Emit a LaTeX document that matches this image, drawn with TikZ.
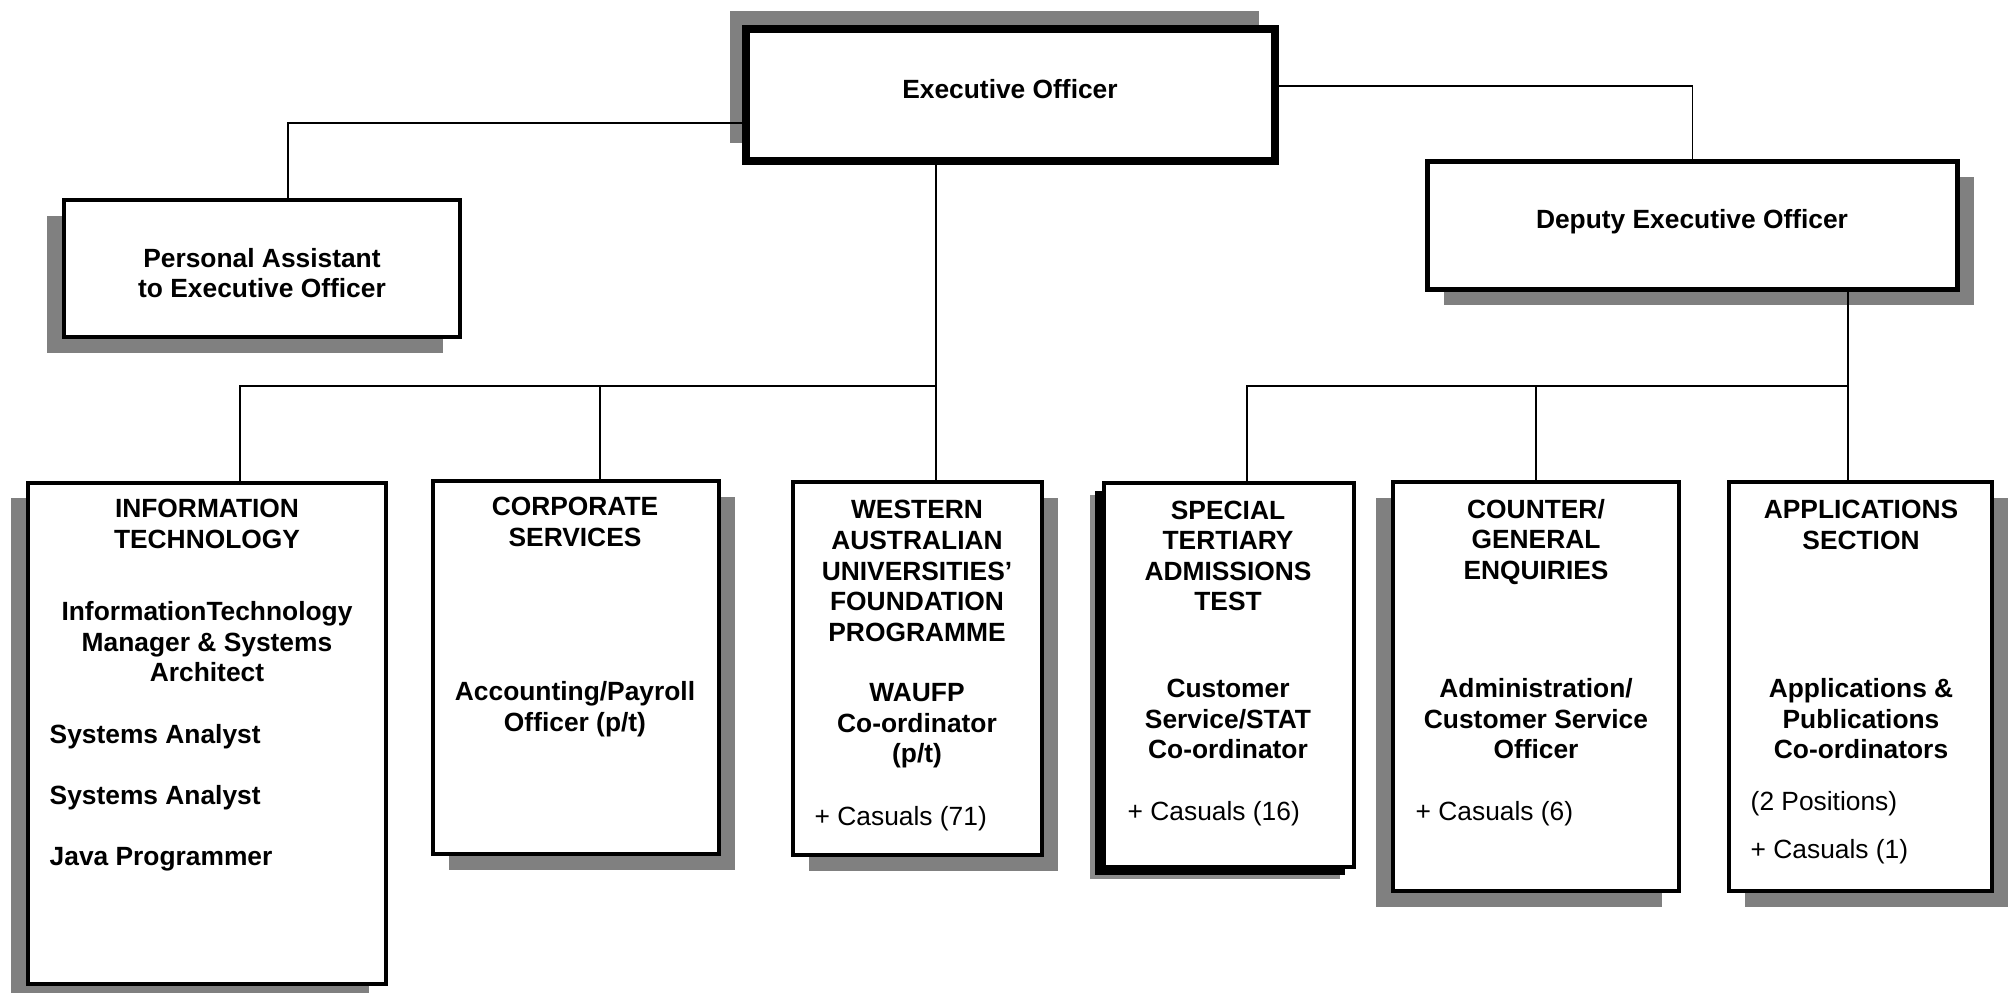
\documentclass[tikz,border=0pt]{standalone}
\usepackage{fontspec}
\setmainfont{Liberation Sans}
\usetikzlibrary{shadows}
\definecolor{shade}{HTML}{808080}
\tikzset{every node/.style={inner sep=0pt,font=\fontsize{7.5}{8.7}\selectfont},
  box/.style={draw,fill=white,line width=0.4mm},
  sh/.style 2 args={general shadow={fill=shade,shadow xshift=#1,shadow yshift=#2}},
  softshadow/.style={general shadow={fill=black,opacity=0.45,shadow xshift=-1.4mm,shadow yshift=-1.2mm},
    general shadow={fill=black,shadow xshift=-0.9mm,shadow yshift=-0.8mm}},
  head/.style={font=\fontsize{7.5}{8.7}\selectfont\bfseries,align=center},
  extra/.style={anchor=west},
  link/.style={line width=0.18mm}}

\begin{document}
\begin{tikzpicture}[x=0.1mm,y=-0.1mm]
  \useasboundingbox (0,0) rectangle (2013,993);
  % boxes
  \node[box,line width=0.8mm,sh={-1.6mm}{1.8mm},minimum width=52.9mm,minimum height=13.2mm] (exec) at (1010.5,95) {};
  \node[box,sh={-1.7mm}{-1.6mm},minimum width=39.6mm,minimum height=13.7mm] (pa) at (262,268.5) {};
  \node[box,line width=0.5mm,sh={1.6mm}{-1.6mm},minimum width=53mm,minimum height=12.8mm] (deputy) at (1692.5,225.5) {};
  \node[box,sh={-1.7mm}{-1.5mm},minimum width=35.8mm,minimum height=50.1mm] (it) at (207,733.5) {};
  \node[box,sh={1.6mm}{-1.6mm},minimum width=28.6mm,minimum height=37.3mm] (corp) at (576,667.5) {};
  \node[box,sh={1.6mm}{-1.6mm},minimum width=24.9mm,minimum height=37.3mm] (waufp) at (917.5,668.5) {};
  \node[box,softshadow,minimum width=25mm,minimum height=38.4mm] (stat) at (1229,675) {};
  \node[box,sh={-1.7mm}{-1.6mm},minimum width=28.6mm,minimum height=40.9mm] (counter) at (1536,686.5) {};
  \node[box,sh={1.6mm}{-1.6mm},minimum width=26.3mm,minimum height=40.9mm] (apps) at (1860.5,686.5) {};
  % connectors
  \coordinate (busL) at (936,386);
  \coordinate (busR) at (1848,386);
  \draw[link] ([yshift=-2.8mm]exec.west) -| ([xshift=2.6mm]pa.north);
  \draw[link] ([yshift=0.9mm]exec.east) -| (deputy.north);
  \draw[link] (exec.south -| busL) -- (busL);
  \draw[link] ([xshift=3.3mm]it.north) |- (busL) -- (busL |- waufp.north);
  \draw[link] ([xshift=2.4mm]corp.north) -- ([xshift=2.4mm]corp.north |- busL);
  \draw[link] (deputy.south -| busR) -- (busR) -- (busR |- apps.north);
  \draw[link] ([xshift=1.8mm]stat.north) |- (busR);
  \draw[link] (counter.north) -- (counter.north |- busR);
  % texts
  \node[head] (execT) at (1010,89) {Executive Officer};
  \node[head] (paT) at (262,273) {Personal Assistant\\to Executive Officer};
  \node[head] (deputyT) at (1692,222) {Deputy Executive Officer};
  \node[head] (itHead) at (207,524) {INFORMATION\\TECHNOLOGY};
  \node[head] (itRole) at (207,642) {InformationTechnology\\Manager \& Systems\\Architect};
  \node[head,anchor=west] (itSa1) at (49,737) {Systems Analyst};
  \node[head,anchor=west] (itSa2) at (49,798) {Systems Analyst};
  \node[head,anchor=west] (itJava) at (49,859) {Java Programmer};
  \node[head] (corpHead) at (575,522) {CORPORATE\\SERVICES};
  \node[head] (corpRole) at (575,709) {Accounting/Payroll\\Officer (p/t)};
  \node[head] (waufpHead) at (917,571) {WESTERN\\AUSTRALIAN\\UNIVERSITIES'\\FOUNDATION\\PROGRAMME};
  \node[head] (waufpRole) at (917,726) {WAUFP\\Co-ordinator\\(p/t)};
  \node[extra] (waufpCas) at (814,819) {+ Casuals (71)};
  \node[head] (statHead) at (1228,556) {SPECIAL\\TERTIARY\\ADMISSIONS\\TEST};
  \node[head] (statRole) at (1228,719) {Customer\\Service/STAT\\Co-ordinator};
  \node[extra] (statCas) at (1127,814) {+ Casuals (16)};
  \node[head] (counterHead) at (1536,542) {COUNTER/\\GENERAL\\ENQUIRIES};
  \node[head] (counterRole) at (1536,719) {Administration/\\Customer Service\\Officer};
  \node[extra] (counterCas) at (1415,814) {+ Casuals (6)};
  \node[head] (appsHead) at (1861,525) {APPLICATIONS\\SECTION};
  \node[head] (appsRole) at (1861,719) {Applications \&\\Publications\\Co-ordinators};
  \node[extra] (appsPos) at (1750,804) {(2 Positions)};
  \node[extra] (appsCas) at (1750,852) {+ Casuals (1)};
\end{tikzpicture}
\end{document}
